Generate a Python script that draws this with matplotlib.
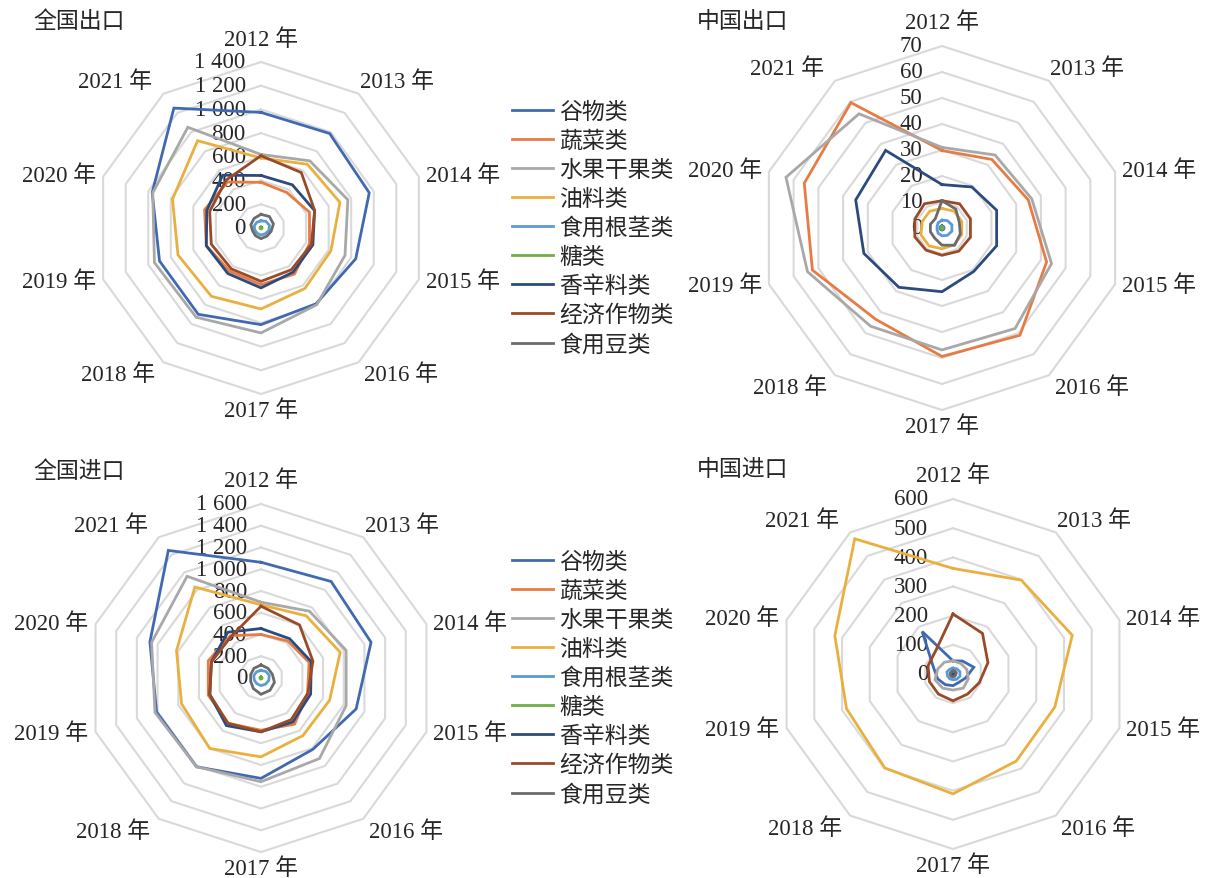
import numpy as np
import matplotlib
matplotlib.use("Agg")
import matplotlib.pyplot as plt

plt.rcParams['font.family'] = ['Liberation Serif', 'Noto Sans CJK SC', 'DejaVu Sans']

years = ['2012 年', '2013 年', '2014 年', '2015 年', '2016 年',
         '2017 年', '2018 年', '2019 年', '2020 年', '2021 年']
series_names = ['谷物类', '蔬菜类', '水果干果类', '油料类', '食用根茎类',
                '糖类', '香辛料类', '经济作物类', '食用豆类']
colors = ['#4169B2', '#E67C43', '#A8A8A8', '#E9B040', '#5B9BD5',
          '#70AD47', '#2B4A7E', '#9A4A26', '#6B6B6B']

# 全国出口
ne_grain = [975, 985, 960, 840, 790, 815, 900, 900, 965, 1250]
ne_veg = [385, 370, 430, 430, 480, 478, 450, 485, 500, 480]
ne_fruit = [620, 700, 770, 745, 800, 885, 930, 945, 960, 1050]
ne_oil = [590, 665, 700, 620, 630, 683, 712, 736, 785, 910]
ne_root = [60, 70, 75, 70, 60, 60, 55, 55, 60, 60]
ne_sugar = [8, 8, 8, 8, 8, 8, 8, 8, 8, 8]
ne_spice = [443, 450, 475, 460, 460, 505, 475, 485, 480, 550]
ne_cash = [610, 578, 476, 447, 435, 450, 426, 441, 455, 500]
ne_bean = [115, 120, 110, 90, 85, 90, 80, 75, 90, 100]

# 中国出口
ce_grain = [0.8, 0.8, 0.8, 0.8, 0.8, 0.8, 0.8, 0.8, 0.8, 0.8]
ce_veg = [29.8, 32.6, 34.9, 42.3, 51.0, 49.4, 43.4, 52.4, 55.7, 59.6]
ce_fruit = [31.0, 34.7, 36.3, 44.3, 47.8, 46.9, 46.7, 54.4, 63.1, 54.3]
ce_oil = [7.5, 8.0, 8.0, 8.0, 8.0, 8.0, 8.5, 8.5, 8.0, 8.0]
ce_root = [3.0, 3.5, 4.0, 4.0, 3.5, 3.0, 2.5, 2.0, 2.0, 2.5]
ce_sugar = [0.5, 0.5, 0.5, 0.5, 0.5, 0.5, 0.5, 0.5, 0.5, 0.5]
ce_spice = [16.7, 19.5, 22.1, 22.1, 20.7, 24.5, 28.2, 31.6, 34.9, 36.9]
ce_cash = [10.5, 11.5, 11.5, 11.5, 11.0, 10.5, 10.5, 11.0, 11.0, 11.5]
ce_bean = [10.5, 9.0, 7.0, 7.4, 8.2, 6.6, 4.8, 4.7, 4.7, 4.4]

# 全国进口
ni_grain = [1064, 1097, 1064, 920, 811, 923, 1009, 1010, 1074, 1450]
ni_veg = [400, 420, 465, 450, 525, 480, 515, 510, 510, 480]
ni_fruit = [697, 759, 823, 823, 915, 954, 1009, 1025, 1058, 1156]
ni_oil = [673, 707, 766, 663, 655, 725, 801, 768, 817, 1034]
ni_root = [70, 75, 80, 75, 70, 70, 65, 65, 70, 70]
ni_sugar = [10, 10, 10, 10, 10, 10, 10, 10, 10, 10]
ni_spice = [455, 447, 486, 480, 499, 495, 541, 495, 480, 520]
ni_cash = [660, 603, 502, 453, 473, 495, 515, 495, 479, 470]
ni_bean = [120, 110, 110, 130, 140, 150, 120, 100, 100, 110]

# 中国进口
ci_grain = [45, 55, 75, 45, 35, 40, 45, 55, 70, 180]
ci_veg = [3, 3, 3, 3, 3, 3, 3, 3, 3, 3]
ci_fruit = [45, 45, 50, 55, 60, 55, 60, 65, 55, 50]
ci_oil = [362, 398, 430, 367, 369, 411, 398, 384, 426, 573]
ci_root = [20, 22, 25, 25, 22, 20, 20, 20, 22, 20]
ci_sugar = [2, 2, 2, 2, 2, 2, 2, 2, 2, 2]
ci_spice = [5, 5, 5, 5, 5, 5, 5, 5, 5, 5]
ci_cash = [206, 172, 126, 95, 85, 92, 85, 85, 90, 100]
ci_bean = [10, 12, 12, 10, 10, 10, 10, 10, 10, 10]

ne_ticks = [0, 200, 400, 600, 800, 1000, 1200, 1400]
ne_ticklabels = ['0', '200', '400', '600', '800', '1 000', '1 200', '1 400']
ce_ticks = [0, 10, 20, 30, 40, 50, 60, 70]
ce_ticklabels = ['0', '10', '20', '30', '40', '50', '60', '70']
ni_ticks = [0, 200, 400, 600, 800, 1000, 1200, 1400, 1600]
ni_ticklabels = ['0', '200', '400', '600', '800', '1 000', '1 200', '1 400', '1 600']
ci_ticks = [0, 100, 200, 300, 400, 500, 600]
ci_ticklabels = ['0', '100', '200', '300', '400', '500', '600']

titles = ['全国出口', '中国出口', '全国进口', '中国进口']

W, H = 1209, 879
fig = plt.figure(figsize=(W / 100, H / 100), dpi=100)

FS = 16.5


def make_radar(cx, cy, R, ticks, ticklabels, data, lab_off):
    ax = fig.add_axes([(cx - R) / W, (H - cy - R) / H, 2 * R / W, 2 * R / H],
                      projection='polar')
    ax.set_theta_zero_location('N')
    ax.set_theta_direction(-1)
    ax.set_ylim(0, ticks[-1])
    ax.grid(False)
    ax.spines['polar'].set_visible(False)
    ax.set_xticks([])
    ax.set_yticks([])
    ax.patch.set_alpha(0)
    n = len(years)
    theta = np.linspace(0, 2 * np.pi, n, endpoint=False)
    tc = np.concatenate([theta, theta[:1]])
    for lv in ticks[1:]:
        ax.plot(tc, [lv] * (n + 1), color='#D9D9D9', lw=1.5, zorder=1,
                clip_on=False)
    lines = []
    for vals, col in zip(data, colors):
        v = list(vals) + [vals[0]]
        ln, = ax.plot(tc, v, color=col, lw=2.0, zorder=3, clip_on=False,
                      solid_joinstyle='miter')
        lines.append(ln)
    # category labels
    specs = [
        ('center', 'bottom', 0, 9),
        ('left', 'bottom', 1, 1),
        ('left', 'center', 5, 1),
        ('left', 'center', 5, -1),
        ('left', 'top', 4, -1),
        ('center', 'top', 0, -4),
        ('right', 'top', -6, -1),
        ('right', 'center', -5, -1),
        ('right', 'center', -5, 1),
        ('right', 'bottom', -8, 1),
    ]
    for t, lab, (ha, va, dx, dy) in zip(theta, years, specs):
        ax.annotate(lab, xy=(t, ticks[-1]), xytext=(dx, dy),
                    textcoords='offset points', ha=ha, va=va, fontsize=FS,
                    color='#262626', annotation_clip=False)
    for lv, tl in zip(ticks, ticklabels):
        ax.annotate(tl, xy=(0, lv), xytext=(-lab_off, 0),
                    textcoords='offset points', ha='right', va='center',
                    fontsize=FS, color='#262626', annotation_clip=False,
                    zorder=2)
    return ax, lines


ax1, lines1 = make_radar(261, 229, 166, ne_ticks, ne_ticklabels,
                         [ne_grain, ne_veg, ne_fruit, ne_oil, ne_root,
                          ne_sugar, ne_spice, ne_cash, ne_bean], 11)
ax2, _ = make_radar(942, 229, 182, ce_ticks, ce_ticklabels,
                    [ce_grain, ce_veg, ce_fruit, ce_oil, ce_root,
                     ce_sugar, ce_spice, ce_cash, ce_bean], 14)
ax3, lines3 = make_radar(261, 679, 174, ni_ticks, ni_ticklabels,
                         [ni_grain, ni_veg, ni_fruit, ni_oil, ni_root,
                          ni_sugar, ni_spice, ni_cash, ni_bean], 10)
ax4, _ = make_radar(953, 675, 175, ci_ticks, ci_ticklabels,
                    [ci_grain, ci_veg, ci_fruit, ci_oil, ci_root,
                     ci_sugar, ci_spice, ci_cash, ci_bean], 18)

for (x, y), t in zip([(33, 22), (697, 22), (33, 472), (697, 470)], titles):
    fig.text(x / W, 1 - y / H, t, fontsize=FS, ha='left', va='center',
             color='#262626')

for lines, ytop in [(lines1, 103), (lines3, 553)]:
    fig.legend(lines, series_names, loc='upper left',
               bbox_to_anchor=(512 / W, 1 - ytop / H), frameon=False,
               fontsize=FS, handlelength=1.8, handletextpad=0.25,
               labelspacing=0.335, borderaxespad=0, borderpad=0,
               labelcolor='#262626')

fig.savefig('out.png', dpi=100)
